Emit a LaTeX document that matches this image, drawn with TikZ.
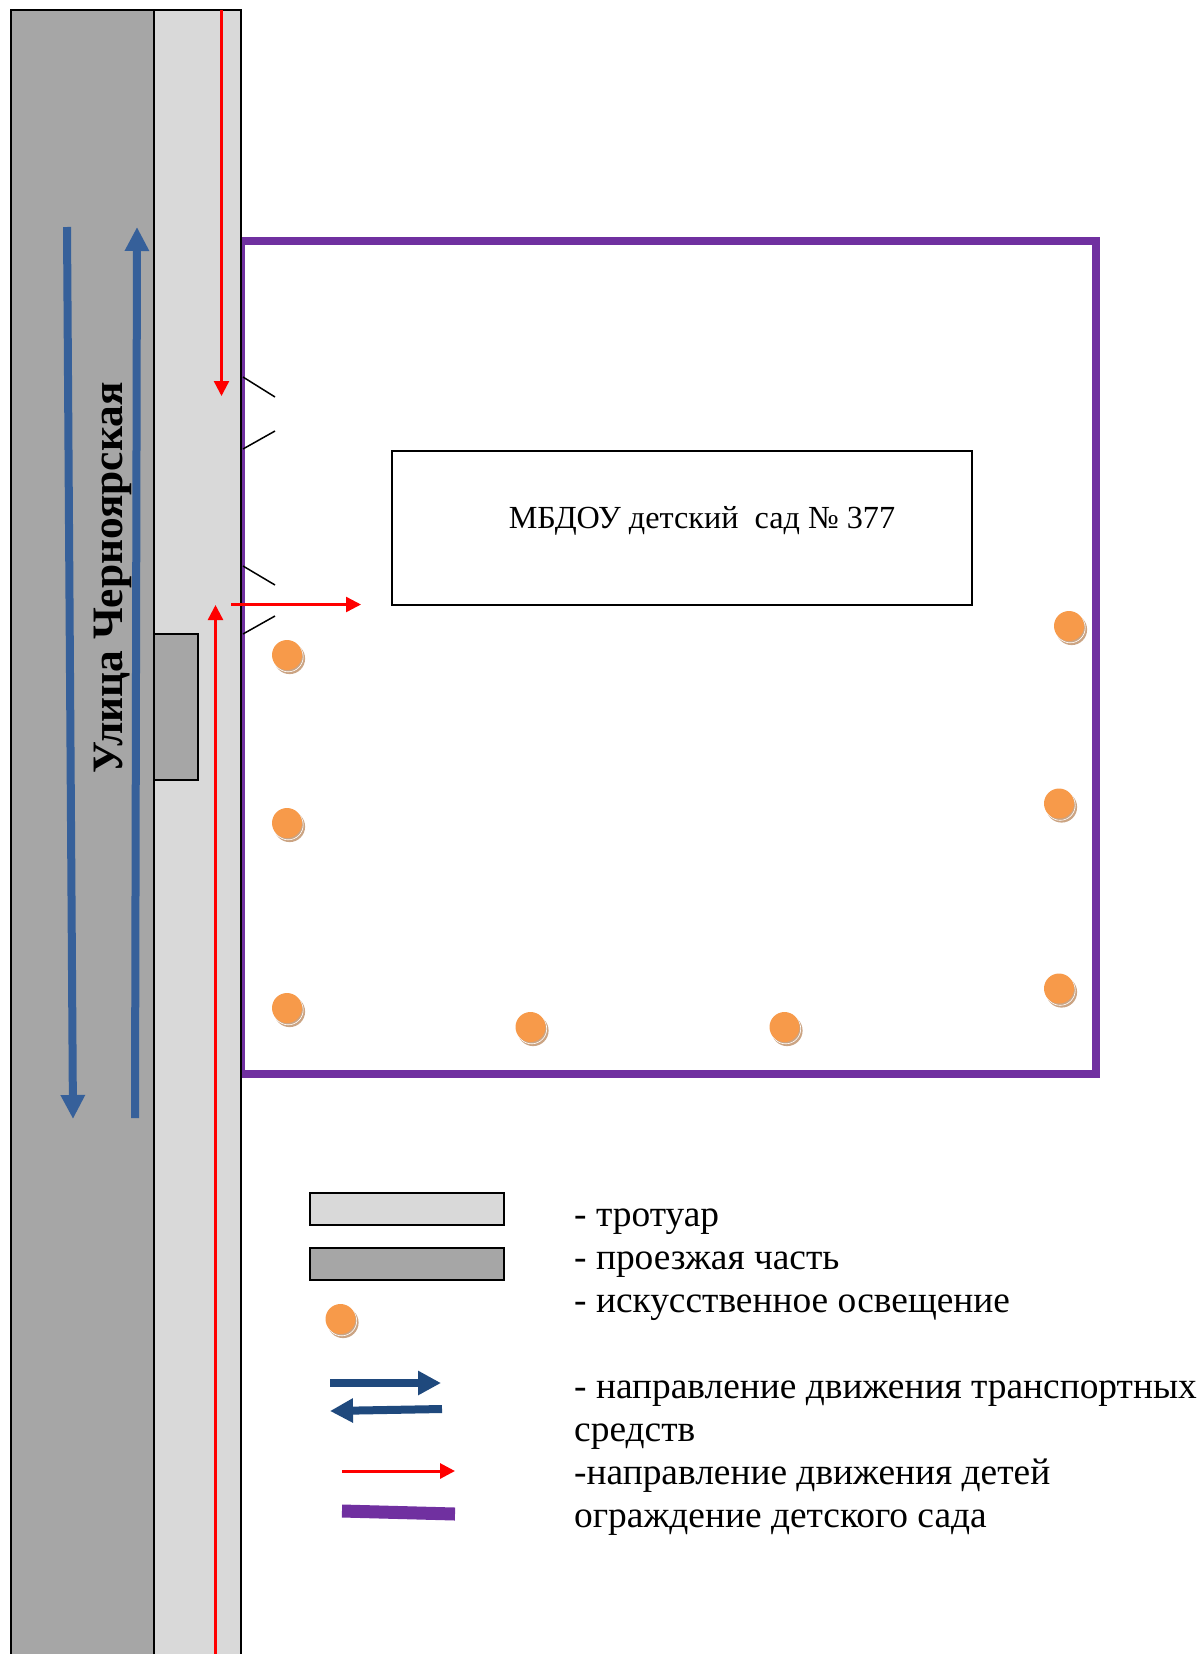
\documentclass[tikz,border=0pt]{standalone}
\usepackage{fontspec}
\setmainfont{Liberation Serif}
\usetikzlibrary{arrows.meta}
\definecolor{roadgray}{HTML}{A6A6A6}
\definecolor{walkgray}{HTML}{D9D9D9}
\definecolor{fencepurple}{HTML}{7030A0}
\definecolor{trafficblue}{HTML}{36609A}
\definecolor{legendblue}{HTML}{1F497D}
\definecolor{lamporange}{HTML}{F79A4A}
\definecolor{lampshadow}{HTML}{CBA483}
\tikzset{
  road/.style={draw=black,line width=2pt,fill=roadgray},
  walk/.style={draw=black,line width=2pt,fill=walkgray},
  fence/.style={draw=fencepurple,line width=8pt},
  gate/.style={draw=black,line width=1.5pt},
  traffic/.style={draw=trafficblue,line width=8pt,-{Triangle[length=24pt,width=23pt]}},
  legendtraffic/.style={draw=legendblue,line width=8pt,-{Triangle[length=23pt,width=23pt]}},
  kids/.style={draw=red,line width=2.4pt,-{Triangle[length=15pt,width=15pt]}},
  legendtext/.style={anchor=base west,inner sep=0pt,font=\fontsize{37.4}{43}\selectfont},
  lamp/.pic={
    \fill[lampshadow] (2.6,3.6) circle (15.5);
    \draw[white,line width=.6pt] (1.2,1.8) circle (15);
    \fill[lamporange] (0,0) circle (15);
  }
}
\begin{document}
\begin{tikzpicture}[x=1pt,y=-1pt]
\useasboundingbox (0,0) rectangle (1202,1654);
\clip (0,0) rectangle (1202,1654);
\fill[white] (0,0) rectangle (1202,1654);
% fence
\draw[fence] (241,240.5) rectangle (1096,1074);
% road and sidewalk
\draw[road] (11,10) rectangle (153.5,1670);
\draw[walk] (153.5,10) rectangle (241,1670);
\draw[road] (153.5,634) rectangle (197.5,780);
% traffic arrows
\coordinate (tA) at (67,227); \coordinate (tB) at (73,1119);
\coordinate (tC) at (135,1118); \coordinate (tD) at (137,227);
\draw[traffic] (tA) -- (tB);
\draw[traffic] (tC) -- (tD);
% street name
\node[rotate=90,anchor=base,inner sep=0pt,font=\fontsize{43.4}{48}\selectfont\bfseries] (street) at (122.7,578) {Улица Черноярская};
% gates
\coordinate (g1a) at (243,377); \coordinate (g1b) at (275,397);
\coordinate (g2a) at (243,449); \coordinate (g2b) at (275,431);
\coordinate (g3a) at (243,566); \coordinate (g3b) at (275,585);
\coordinate (g4a) at (243,634); \coordinate (g4b) at (275,616);
\draw[gate] (g1a) -- (g1b);
\draw[gate] (g2a) -- (g2b);
\draw[gate] (g3a) -- (g3b);
\draw[gate] (g4a) -- (g4b);
% building
\node[draw=black,line width=1.6pt,fill=white,minimum width=580pt,minimum height=154pt,anchor=north west,inner sep=0pt,outer sep=0pt] (school) at (392,451) {};
\node[anchor=base,inner sep=0pt,font=\fontsize{32.2}{36}\selectfont] (schoolname) at (702,528) {МБДОУ детский\ \ сад № 377};
% children routes
\coordinate (r1a) at (221.5,10); \coordinate (r1b) at (221.5,396);
\coordinate (r2a) at (215.5,1660); \coordinate (r2b) at (215.5,605);
\coordinate (r3a) at (231,604.5); \coordinate (r3b) at (361,604.5);
\draw[kids] (r1a) -- (r1b);
\draw[kids] (r2a) -- (r2b);
\draw[kids] (r3a) -- (r3b);
% lamps
\foreach \p in {(287,655),(287,823),(287,1008),(530.5,1027),(784.5,1027),(1059,988.5),(1059,803.5),(1069,626),(340.5,1319)}
  \pic at \p {lamp};
% legend
\node[walk,draw,minimum width=194pt,minimum height=32pt,anchor=north west,inner sep=0pt,outer sep=0pt] (legwalk) at (309.5,1193) {};
\node[road,draw,minimum width=194pt,minimum height=32pt,anchor=north west,inner sep=0pt,outer sep=0pt] (legroad) at (309.5,1247.5) {};
\coordinate (lb1a) at (330,1383); \coordinate (lb1b) at (441,1383);
\coordinate (lb2a) at (442,1409); \coordinate (lb2b) at (330,1411);
\draw[legendtraffic] (lb1a) -- (lb1b);
\draw[legendtraffic] (lb2a) -- (lb2b);
\coordinate (lr1a) at (342,1471); \coordinate (lr1b) at (455,1471);
\draw[kids,line width=3pt] (lr1a) -- (lr1b);
\coordinate (lp1a) at (342,1511); \coordinate (lp1b) at (455,1514);
\draw[draw=fencepurple,line width=13pt] (lp1a) -- (lp1b);
\node[legendtext] (t1) at (574,1226.5) {- тротуар};
\node[legendtext] (t2) at (574,1269.5) {- проезжая часть};
\node[legendtext] (t3) at (574,1312.5) {- искусственное освещение};
\node[legendtext] (t4) at (574,1398.5) {- направление движения транспортных};
\node[legendtext] (t5) at (574,1441.5) {средств};
\node[legendtext] (t6) at (574,1484.5) {-направление движения детей};
\node[legendtext] (t7) at (574,1527.5) {ограждение детского сада};
\end{tikzpicture}
\end{document}
